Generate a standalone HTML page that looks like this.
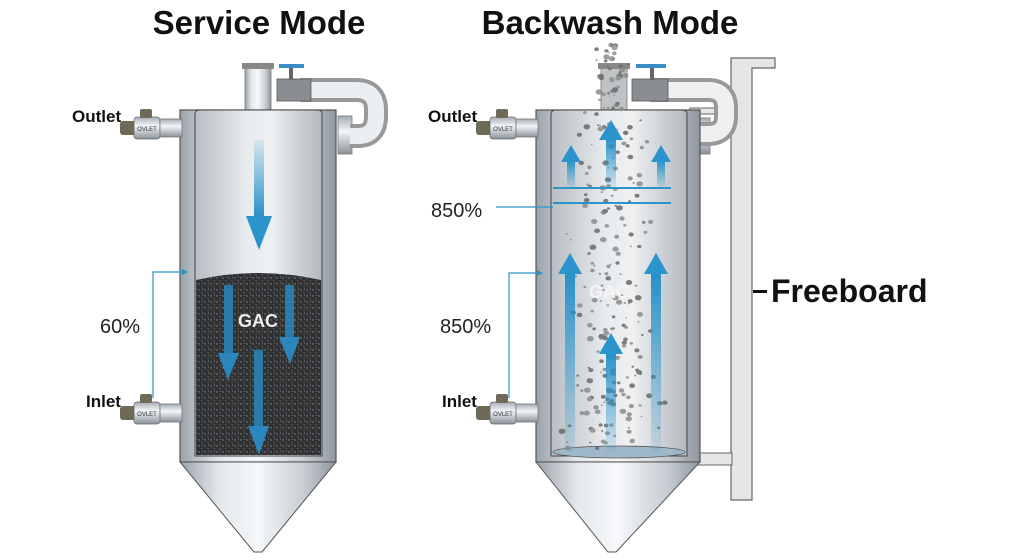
<!DOCTYPE html>
<html><head><meta charset="utf-8"><style>
html,body{margin:0;padding:0;background:#fff;width:1024px;height:559px;overflow:hidden}
svg{display:block}
text{font-family:"Liberation Sans",sans-serif}
</style></head><body>
<svg id="s" width="1024" height="559" viewBox="0 0 1024 559" xmlns="http://www.w3.org/2000/svg">
<defs>
<linearGradient id="steel" x1="0" x2="1" y1="0" y2="0">
<stop offset="0" stop-color="#9aa2aa"/><stop offset="0.25" stop-color="#e4e8ec"/><stop offset="0.5" stop-color="#f6f8fa"/><stop offset="0.8" stop-color="#c6ccd2"/><stop offset="1" stop-color="#8e969e"/>
</linearGradient>
<linearGradient id="inner" x1="0" x2="1" y1="0" y2="0">
<stop offset="0" stop-color="#b8bec4"/><stop offset="0.4" stop-color="#e8ebee"/><stop offset="0.6" stop-color="#eef0f2"/><stop offset="1" stop-color="#b2b8be"/>
</linearGradient>
<linearGradient id="pipeH" x1="0" x2="0" y1="0" y2="1">
<stop offset="0" stop-color="#a4acb4"/><stop offset="0.4" stop-color="#f4f6f8"/><stop offset="1" stop-color="#8a929a"/>
</linearGradient>
<linearGradient id="arrD" x1="0" x2="0" y1="0" y2="1">
<stop offset="0" stop-color="#2e9ad0" stop-opacity="0.1"/><stop offset="1" stop-color="#2590c8"/>
</linearGradient>
<linearGradient id="arrU" x1="0" x2="0" y1="1" y2="0">
<stop offset="0" stop-color="#2e9ad0" stop-opacity="0.1"/><stop offset="1" stop-color="#2590c8"/>
</linearGradient>
<pattern id="gac" width="6" height="6" patternUnits="userSpaceOnUse">
<rect width="6" height="6" fill="#2f3133"/><circle cx="1" cy="2" r="0.7" fill="#8a8d90"/><circle cx="4" cy="4.5" r="0.6" fill="#6a6d70"/><circle cx="4.5" cy="1" r="0.5" fill="#9a9da0"/>
</pattern>
<g id="valve">
<rect x="0" y="8" width="16" height="14" rx="3" fill="#6e6a58"/>
<rect x="14" y="4" width="26" height="22" rx="3" fill="url(#pipeH)" stroke="#666" stroke-width="0.8"/>
<rect x="20" y="-4" width="12" height="9" rx="2" fill="#6f6a56"/>
<rect x="40" y="6" width="22" height="18" fill="url(#pipeH)" stroke="#777" stroke-width="0.8"/>
<text x="27" y="18" font-size="6" text-anchor="middle" fill="#333">OVLET</text>
</g>
</defs>

<text x="259" y="34" font-size="33" font-weight="bold" text-anchor="middle" fill="#111">Service Mode</text>
<text x="610" y="34" font-size="33" font-weight="bold" text-anchor="middle" fill="#111">Backwash Mode</text>

<!-- LEFT TANK -->
<g>
<rect x="338" y="116" width="14" height="38" fill="url(#pipeH)" stroke="#777" stroke-width="0.8"/>
<path d="M300 90 H356 Q376 90 376 110 V116 Q376 136 358 136 H350" fill="none" stroke="#999" stroke-width="24"/>
<path d="M300 90 H356 Q376 90 376 110 V116 Q376 136 358 136 H350" fill="none" stroke="#eceff2" stroke-width="16"/>
<rect x="245" y="66" width="26" height="46" fill="url(#steel)" stroke="#777" stroke-width="0.8"/>
<rect x="242" y="63" width="32" height="6" fill="#888"/>
<rect x="277" y="79" width="34" height="22" fill="#8a8e92" stroke="#555" stroke-width="0.8"/>
<rect x="289" y="68" width="4" height="12" fill="#666"/>
<rect x="279" y="64" width="25" height="4" fill="#3a8cc6"/>
<path d="M180 110 H336 V462 H180 Z" fill="url(#steel)" stroke="#555" stroke-width="1.2"/>
<path d="M195 114 Q195 110 200 110 H318 Q322 110 322 114 V456 H195 Z" fill="url(#inner)" stroke="#444" stroke-width="1"/>
<path d="M196 280 Q258 266 321 280 V455 H196 Z" fill="url(#gac)"/>
<rect x="254" y="140" width="10" height="76" fill="url(#arrD)"/>
<polygon points="246,216 272,216 259,250" fill="#2c94cc"/>
<rect x="224" y="285" width="9" height="68" fill="#2a86bc" opacity="0.85"/><polygon points="218,353 239,353 228,380" fill="#2a86bc"/>
<rect x="285" y="285" width="9" height="52" fill="#2a86bc" opacity="0.85"/><polygon points="279,337 300,337 290,364" fill="#2a86bc"/>
<rect x="254" y="350" width="9" height="76" fill="#2a86bc" opacity="0.85"/><polygon points="248,426 269,426 259,455" fill="#2a86bc"/>
<text x="258" y="327" font-size="18" font-weight="bold" fill="#eee" text-anchor="middle">GAC</text>
<path d="M180 462 H336 L262 552 H254 Z" fill="url(#steel)" stroke="#555" stroke-width="1"/>
<use href="#valve" x="120" y="113"/>
<use href="#valve" x="120" y="398"/>
<polyline points="153,398 153,272 182,272" fill="none" stroke="#2a96c8" stroke-width="1.2"/>
<polygon points="182,269 188,272 182,275" fill="#2a96c8"/>
</g>
<text x="72" y="122" font-size="17" font-weight="bold" fill="#111">Outlet</text>
<text x="86" y="407" font-size="17" font-weight="bold" fill="#111">Inlet</text>
<text x="100" y="333" font-size="20" fill="#222">60%</text>

<!-- FREEBOARD BRACKET -->
<path d="M731 58 H775 V68 H752 V500 H731 Z" fill="#e4e6e8" stroke="#666" stroke-width="1.2"/>
<rect x="690" y="108" width="42" height="6" fill="#e4e6e8" stroke="#666" stroke-width="1"/>
<rect x="660" y="453" width="72" height="12" fill="#e4e6e8" stroke="#666" stroke-width="1"/>
<rect x="753" y="290" width="14" height="3" fill="#111"/>
<text x="771" y="302" font-size="32" font-weight="bold" fill="#111">Freeboard</text>

<!-- RIGHT TANK -->
<g>
<rect x="696" y="118" width="14" height="36" fill="url(#pipeH)" stroke="#777" stroke-width="0.8"/>
<path d="M650 90 H708 Q726 90 726 108 V116 Q726 134 708 134 H700" fill="none" stroke="#999" stroke-width="24"/>
<path d="M650 90 H708 Q726 90 726 108 V116 Q726 134 708 134 H700" fill="none" stroke="#eef0f2" stroke-width="16"/>
<rect x="601" y="66" width="26" height="46" fill="#bfc3c6" stroke="#777" stroke-width="0.8"/>
<rect x="598" y="63" width="32" height="6" fill="#888"/>
<rect x="632" y="79" width="36" height="22" fill="#8a8e92" stroke="#555" stroke-width="0.8"/>
<rect x="650" y="68" width="4" height="12" fill="#666"/>
<rect x="636" y="64" width="30" height="4" fill="#3a8cc6"/>
<path d="M536 110 H700 V462 H536 Z" fill="url(#steel)" stroke="#555" stroke-width="1.2"/>
<path d="M551 114 Q551 110 556 110 H682 Q687 110 687 114 V456 H551 Z" fill="url(#inner)" stroke="#444" stroke-width="1"/>
<ellipse cx="619" cy="452" rx="66" ry="6" fill="#9fb8c8" stroke="#555" stroke-width="0.8"/>
<g id="parts" fill="#6e6e6e" opacity="0.85"></g>
<rect x="567" y="160" width="8" height="28" fill="url(#arrU)"/><polygon points="561,162 581,162 571,145" fill="#2c94cc"/>
<rect x="657" y="160" width="8" height="28" fill="url(#arrU)"/><polygon points="651,162 671,162 661,145" fill="#2c94cc"/>
<rect x="606" y="138" width="10" height="50" fill="url(#arrU)"/><polygon points="599,140 623,140 611,120" fill="#2c94cc"/>
<line x1="553" y1="188" x2="671" y2="188" stroke="#2a96c8" stroke-width="2"/>
<line x1="553" y1="203" x2="671" y2="203" stroke="#2a96c8" stroke-width="2"/>
<rect x="565" y="272" width="10" height="180" fill="url(#arrU)"/><polygon points="558,274 582,274 570,253" fill="#2c94cc"/>
<rect x="651" y="272" width="10" height="180" fill="url(#arrU)"/><polygon points="644,274 668,274 656,253" fill="#2c94cc"/>
<rect x="606" y="352" width="10" height="100" fill="url(#arrU)"/><polygon points="599,354 623,354 611,333" fill="#2c94cc"/>
<text x="609" y="298" font-size="18" font-weight="bold" fill="#f4f4f4" text-anchor="middle">GAC</text>
<path d="M536 462 H700 L616 552 H608 Z" fill="url(#steel)" stroke="#555" stroke-width="1"/>
<use href="#valve" x="476" y="113"/>
<use href="#valve" x="476" y="398"/>
<polyline points="509,398 509,273 537,273" fill="none" stroke="#2a96c8" stroke-width="1.2"/>
<polygon points="537,270 543,273 537,276" fill="#2a96c8"/>
<line x1="496" y1="207" x2="553" y2="207" stroke="#2a96c8" stroke-width="1.2"/>
</g>
<text x="431" y="217" font-size="20" fill="#222">850%</text>
<text x="440" y="333" font-size="20" fill="#222">850%</text>
<text x="428" y="122" font-size="17" font-weight="bold" fill="#111">Outlet</text>
<text x="442" y="407" font-size="17" font-weight="bold" fill="#111">Inlet</text>
</svg>
<script>
(function(){var g=document.getElementById('parts');var s=7;function r(){s=(s*16807)%2147483647;return s/2147483647;}
var ns='http://www.w3.org/2000/svg';
for(var i=0;i<260;i++){var y=45+r()*405;var w=y<110?12:(28+ (y-110)*0.03);var x=612+(r()+r()+r()-1.5)*w*1.1;
var c=document.createElementNS(ns,'ellipse');c.setAttribute('cx',x.toFixed(1));c.setAttribute('cy',y.toFixed(1));
var rr=0.8+r()*2.6;c.setAttribute('rx',rr.toFixed(1));c.setAttribute('ry',(rr*0.8).toFixed(1));
c.setAttribute('fill',r()<0.5?'#6a6a6a':'#8c8c8c');g.appendChild(c);}})();
</script>
</body></html>
